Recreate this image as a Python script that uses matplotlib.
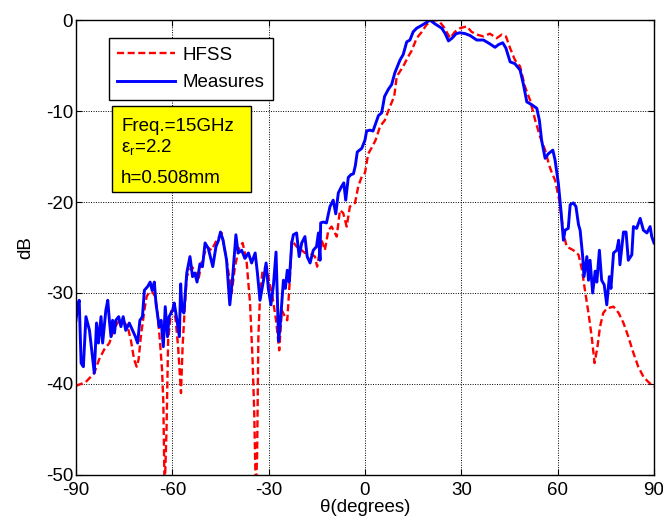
import matplotlib
matplotlib.use("Agg")
import matplotlib.pyplot as plt
from matplotlib.patches import Rectangle

plt.rcParams["font.family"] = ["Liberation Sans", "DejaVu Sans"]
plt.rcParams["mathtext.fontset"] = "custom"
plt.rcParams["mathtext.rm"] = "Liberation Sans"
plt.rcParams["mathtext.it"] = "Liberation Sans"
plt.rcParams["axes.unicode_minus"] = False

# HFSS simulation (red dashed)
hfss_theta = [-90.0, -87.0, -85.4, -84.3, -82.8, -81.2, -79.6, -78.6, -77.6, -76.5, -75.5, -73.9,
              -72.9, -71.9, -71.1, -70.5, -69.8, -68.7, -68.0, -67.2, -66.2, -65.3, -64.6, -63.9,
              -63.2, -62.8, -62.4, -61.8, -61.3, -60.4, -59.7, -59.0, -58.2, -57.5, -57.3, -56.8,
              -56.1, -55.5, -54.0, -53.0, -51.9, -50.9, -49.3, -47.8, -46.2, -44.6, -43.1, -41.5,
              -40.5, -39.1, -38.1, -36.9, -35.8, -35.0, -34.5, -34.0, -33.6, -33.2, -32.7, -31.9,
              -30.6, -29.8, -28.8, -27.7, -26.7, -25.9, -24.9, -24.2, -23.4, -22.8, -21.3, -19.7,
              -18.7, -17.1, -15.6, -14.9, -13.5, -12.5, -11.4, -10.4, -8.8, -7.8, -6.8, -5.7,
              -4.7, -3.1, -2.1, -1.0, 0.0, 1.0, 2.3, 3.3, 4.7, 6.2, 7.8, 9.1,
              9.9, 11.9, 13.5, 14.5, 16.1, 17.7, 19.2, 20.8, 22.8, 24.4, 25.4, 26.5,
              28.0, 29.6, 31.7, 33.2, 34.8, 36.9, 38.9, 41.0, 42.6, 43.9, 45.2, 46.7,
              48.3, 49.8, 51.4, 53.0, 54.5, 56.1, 57.4, 58.2, 59.2, 60.5, 61.8, 62.8,
              64.9, 66.5, 67.5, 68.5, 69.6, 70.6, 71.5, 72.4, 73.2, 74.2, 75.3, 77.4,
              79.0, 80.5, 82.0, 83.6, 85.1, 86.7, 88.3, 90.0]
hfss_db = [-40.2, -39.8, -39.2, -38.8, -37.3, -36.2, -35.5, -34.4, -33.6, -33.0, -33.0, -33.7,
           -35.2, -37.3, -38.1, -37.3, -34.8, -31.9, -30.4, -29.9, -29.9, -30.4, -32.2, -35.1,
           -38.4, -42.0, -52.0, -45.0, -35.2, -32.0, -31.9, -32.8, -35.9, -40.0, -41.0, -35.9,
           -31.5, -28.2, -27.1, -27.5, -28.6, -26.7, -24.9, -25.3, -24.2, -23.4, -26.4, -30.0,
           -27.1, -24.9, -24.5, -26.4, -31.1, -37.4, -43.0, -52.0, -48.0, -34.8, -30.4, -27.5,
           -27.1, -28.8, -30.4, -33.0, -36.3, -31.9, -32.6, -33.0, -28.5, -24.2, -24.9, -25.3,
           -25.6, -25.6, -26.0, -27.1, -24.2, -25.3, -23.1, -22.7, -23.8, -20.9, -21.2, -22.7,
           -20.5, -20.1, -18.3, -17.2, -16.8, -14.7, -13.9, -13.2, -11.7, -11.0, -9.5, -8.4,
           -6.2, -5.1, -4.0, -3.4, -2.0, -1.3, -0.5, -0.1, 0.0, -0.7, -1.3, -2.0,
           -1.3, -0.9, -0.7, -1.3, -1.6, -1.8, -1.5, -2.0, -1.6, -1.8, -3.1, -4.4,
           -5.1, -7.3, -8.8, -11.0, -12.8, -14.3, -16.0, -16.8, -17.6, -19.8, -23.4, -24.9,
           -25.3, -25.8, -27.3, -29.7, -32.2, -34.8, -37.7, -35.9, -33.7, -32.2, -31.7, -31.5,
           -32.2, -33.3, -34.8, -36.6, -38.1, -39.2, -39.8, -40.3]

# Measured pattern (blue solid)
meas_theta = [-90.0, -89.5, -89.0, -88.4, -87.7, -86.9, -85.8, -85.0, -84.3, -83.6, -83.0, -82.2,
              -81.7, -80.7, -80.1, -79.6, -79.1, -78.6, -78.0, -77.6, -76.7, -76.0, -75.3, -74.5,
              -73.4, -72.4, -71.5, -70.8, -70.1, -69.3, -68.7, -67.7, -66.9, -66.3, -65.6, -65.1,
              -64.1, -63.5, -62.8, -62.2, -61.5, -61.0, -59.9, -59.4, -58.9, -57.8, -57.4, -57.0,
              -56.4, -55.5, -54.5, -53.7, -53.0, -52.3, -51.4, -50.6, -49.8, -48.8, -47.4, -46.4,
              -45.6, -45.0, -44.2, -43.1, -42.1, -41.2, -40.2, -39.5, -38.4, -37.4, -36.3, -35.3,
              -34.2, -33.5, -32.7, -31.6, -30.8, -30.1, -29.3, -28.5, -27.7, -26.9, -26.4, -25.9,
              -25.4, -24.8, -24.2, -23.6, -22.8, -22.3, -21.3, -20.5, -19.7, -18.7, -18.0, -17.1,
              -16.1, -15.1, -14.5, -14.0, -13.8, -13.0, -12.0, -10.9, -9.9, -9.1, -8.3, -7.3,
              -6.6, -6.0, -5.2, -4.4, -3.6, -3.0, -2.4, -1.0, 0.0, 0.5, 1.5, 2.5,
              3.2, 4.2, 5.2, 6.1, 7.3, 8.3, 9.3, 10.9, 11.9, 13.0, 14.0, 15.0,
              16.1, 17.6, 19.0, 20.2, 21.7, 23.9, 25.0, 26.0, 27.1, 28.4, 29.6, 31.2,
              32.7, 34.8, 36.9, 38.8, 40.5, 41.6, 42.9, 43.9, 45.2, 46.7, 48.3, 49.3,
              50.4, 51.9, 53.5, 54.3, 55.0, 56.1, 57.1, 58.5, 59.2, 60.2, 61.1, 61.8,
              62.3, 63.3, 63.9, 64.9, 65.7, 66.5, 67.0, 67.8, 68.2, 69.1, 69.6, 70.1,
              70.9, 71.7, 72.2, 73.0, 73.7, 74.5, 75.3, 76.1, 76.6, 77.4, 78.4, 79.0,
              79.4, 80.5, 81.3, 82.0, 83.1, 83.6, 84.6, 85.7, 86.7, 87.8, 88.8, 89.3, 90.0]
meas_db = [-33.0, -31.5, -30.8, -37.7, -38.1, -32.6, -34.1, -36.6, -38.8, -33.3, -35.5, -32.6,
           -35.5, -31.9, -30.8, -33.0, -34.8, -33.0, -34.4, -33.0, -32.6, -33.7, -32.6, -34.1,
           -33.3, -34.1, -34.8, -35.5, -33.0, -32.6, -29.7, -29.3, -28.8, -29.7, -28.8, -31.1,
           -33.7, -33.0, -35.9, -31.5, -34.8, -32.6, -31.9, -31.1, -32.2, -34.8, -29.0, -31.9,
           -32.2, -27.8, -26.0, -28.2, -27.8, -28.8, -26.8, -27.1, -24.5, -25.1, -27.1, -24.9,
           -24.2, -23.3, -24.2, -26.4, -31.3, -28.2, -23.6, -25.6, -25.3, -26.2, -25.6, -26.7,
           -25.6, -27.8, -30.8, -28.6, -26.7, -29.5, -31.3, -29.1, -25.5, -35.3, -33.5, -31.0,
           -28.6, -29.5, -27.5, -28.8, -24.5, -23.6, -23.4, -26.0, -24.5, -23.8, -26.0, -26.7,
           -25.3, -24.9, -23.4, -26.4, -22.3, -22.2, -22.3, -20.5, -19.8, -21.3, -19.0, -18.3,
           -17.9, -19.8, -17.3, -17.0, -16.9, -16.0, -14.5, -14.1, -13.2, -12.2, -12.1, -12.2,
           -11.5, -10.5, -10.2, -8.4, -7.6, -7.1, -5.8, -4.4, -3.8, -2.4, -2.2, -1.3,
           -0.9, -0.6, -0.3, 0.0, -0.4, -0.9, -1.5, -2.3, -2.0, -1.5, -1.4, -1.5,
           -1.7, -2.2, -2.2, -2.6, -3.0, -2.7, -2.5, -3.1, -4.6, -4.8, -5.5, -7.0,
           -9.0, -9.3, -9.7, -11.0, -13.2, -15.2, -14.7, -14.3, -15.4, -17.9, -21.2, -24.2,
           -23.1, -22.9, -20.3, -20.1, -20.5, -22.5, -23.1, -26.0, -28.2, -26.0, -28.6, -26.4,
           -30.0, -27.6, -28.8, -25.3, -28.6, -29.1, -31.3, -28.2, -29.5, -25.6, -25.3, -24.2,
           -26.9, -23.3, -23.3, -26.4, -25.8, -22.7, -22.9, -21.8, -23.1, -23.4, -22.7, -23.8, -24.5]

x_ticks = [-90, -60, -30, 0, 30, 60, 90]
y_ticks = [-50, -40, -30, -20, -10, 0]
info_lines = ["Freq.=15GHz", r"$\mathrm{\varepsilon_r}$=2.2", "h=0.508mm"]

fig = plt.figure(figsize=(6.63, 5.28), dpi=100)
ax = fig.add_axes([0.1146, 0.1004, 0.8718, 0.8617])

ax.plot(hfss_theta, hfss_db, color="red", linestyle=(0, (3, 1.5)), linewidth=1.7, label="HFSS")
ax.plot(meas_theta, meas_db, color="blue", linestyle="-", linewidth=2.1, label="Measures")

ax.set_xlim(-90, 90)
ax.set_ylim(-50, 0)
ax.set_xticks(x_ticks)
ax.set_yticks(y_ticks)
ax.tick_params(direction="in", top=True, right=True, labelsize=13.5, length=4)
ax.tick_params(axis="x", pad=5)
ax.tick_params(axis="y", pad=2)
ax.grid(True, color="black", linestyle=(0, (1, 1.5)), linewidth=0.7)
for s in ax.spines.values():
    s.set_linewidth(1.0)

ax.set_xlabel("θ(degrees)", fontsize=13.5, labelpad=0)
ax.set_ylabel("dB", fontsize=13.5, labelpad=8)

leg = ax.legend(loc="upper left", bbox_to_anchor=(0.057, 0.960), borderaxespad=0,
                fontsize=13.5, fancybox=False, edgecolor="black", framealpha=1,
                handlelength=3.1, handletextpad=0.4, borderpad=0.45, labelspacing=0.55)
leg.get_frame().set_linewidth(1.0)

# yellow info box
ax.add_patch(Rectangle((0.062, 0.622), 0.241, 0.189, transform=ax.transAxes,
                       facecolor="yellow", edgecolor="black", linewidth=1.0, zorder=5))
for txt, yy in zip(info_lines, [0.767, 0.720, 0.652]):
    ax.text(0.078, yy, txt, transform=ax.transAxes, fontsize=13.5, va="center", ha="left", zorder=6)

fig.savefig("out.png", dpi=100)
